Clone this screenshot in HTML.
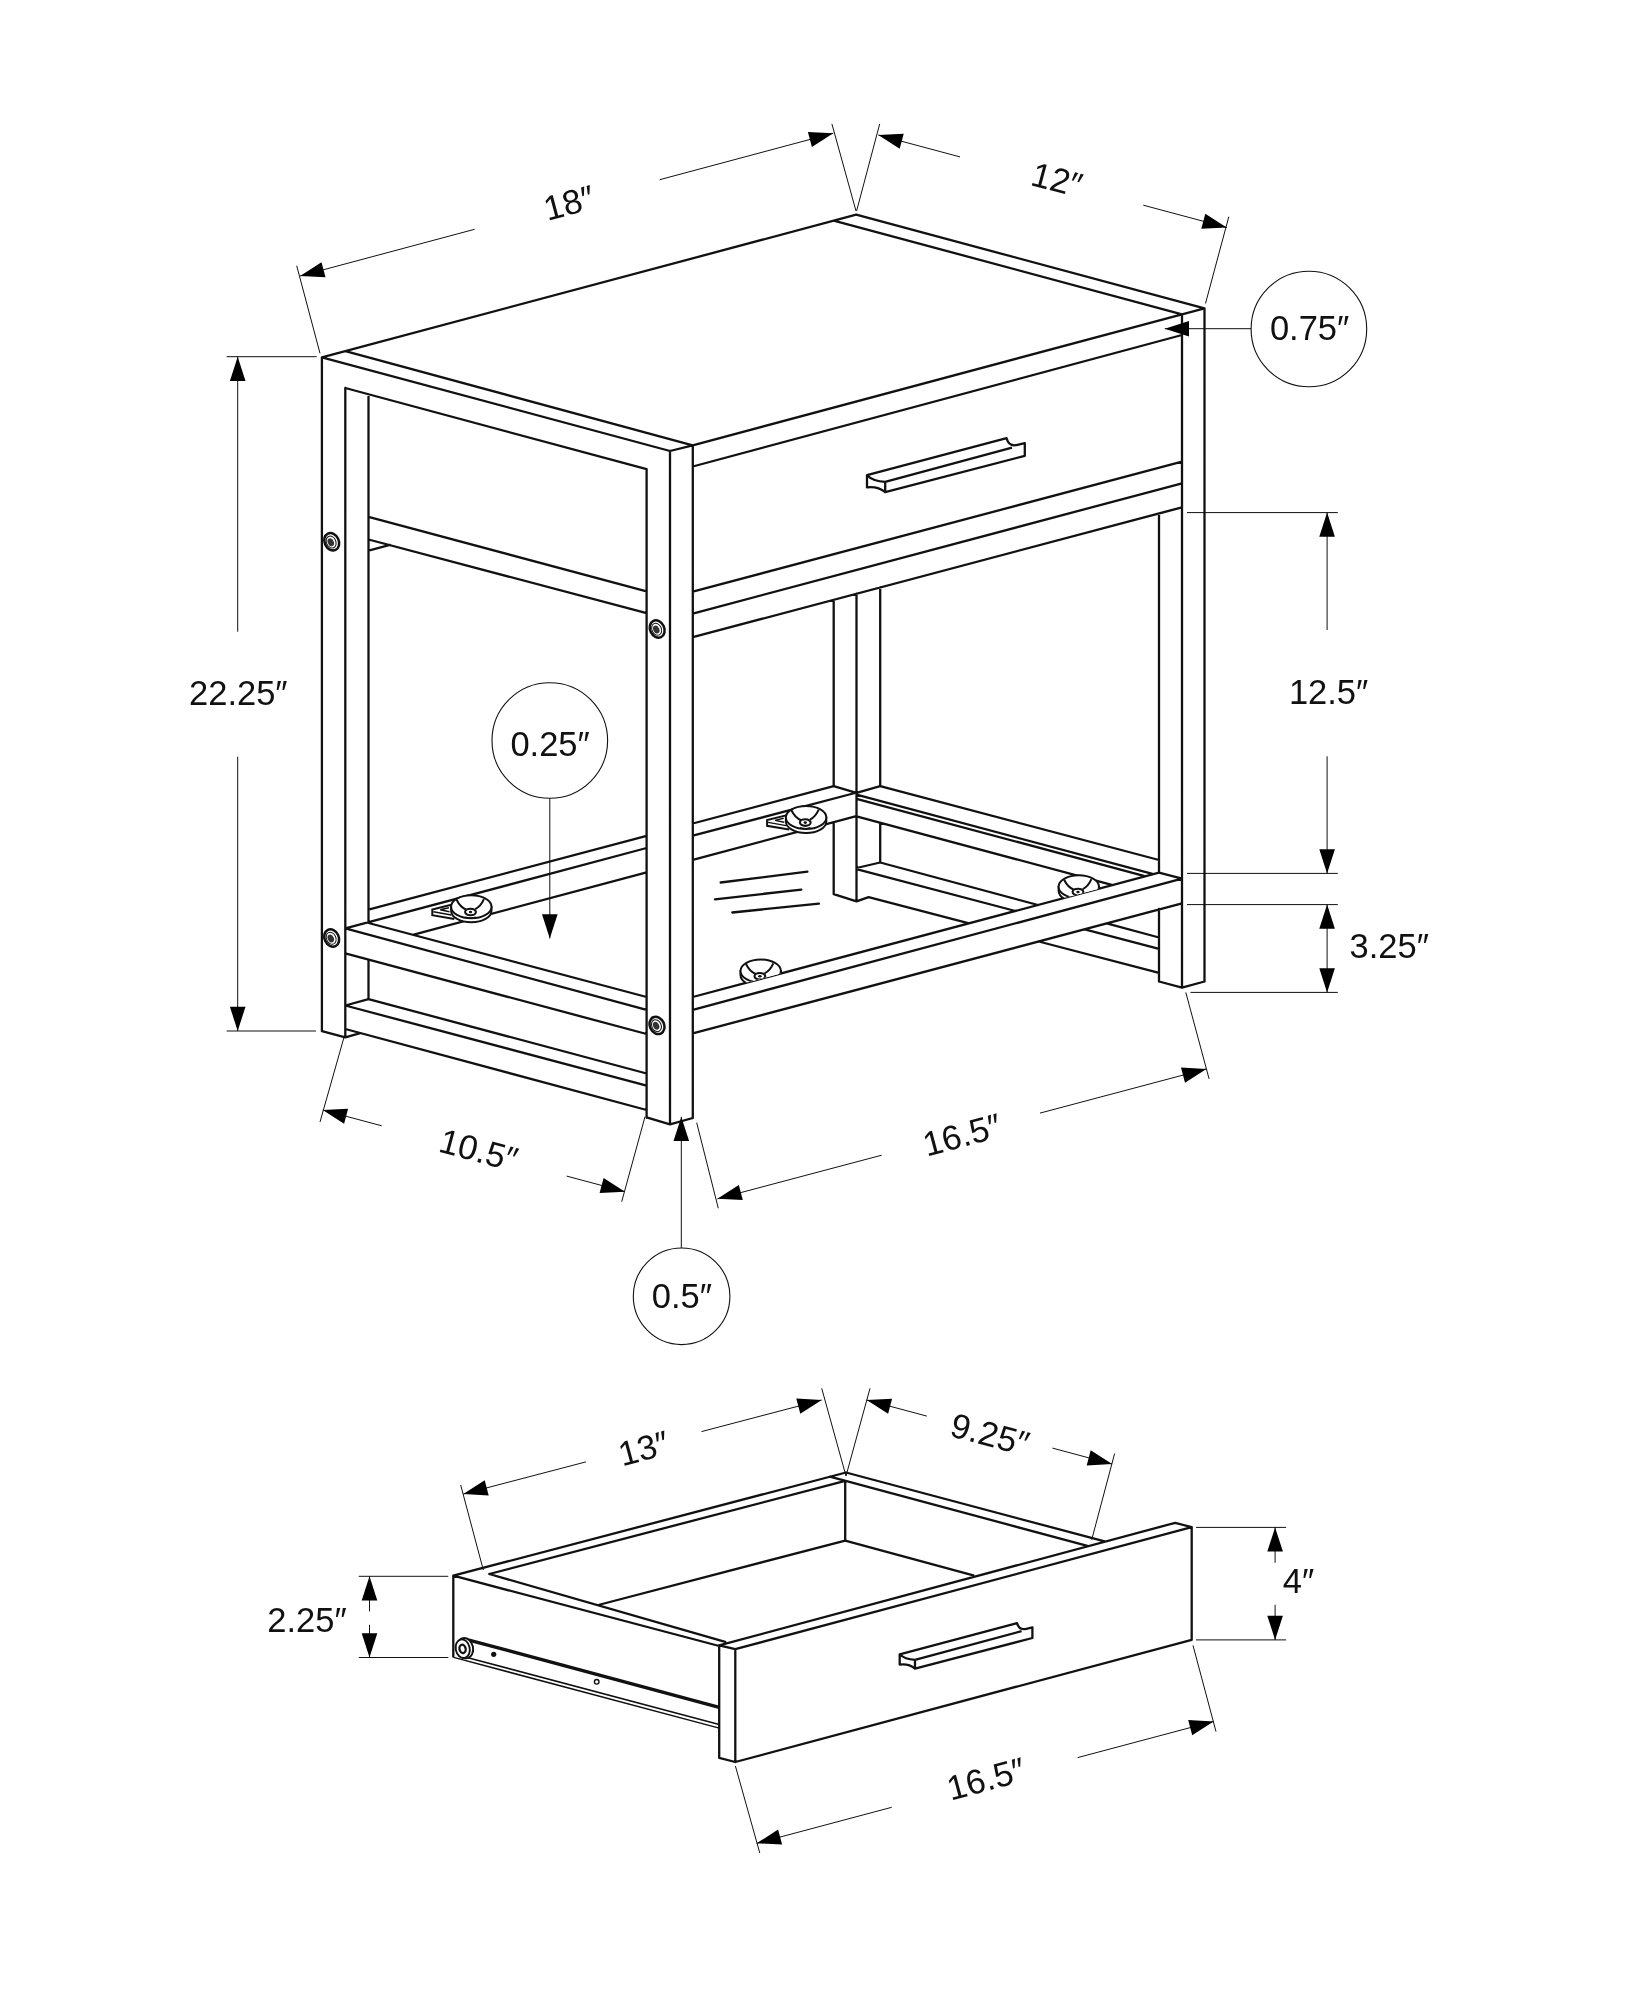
<!DOCTYPE html>
<html lang="en"><head><meta charset="utf-8"><title>Side table dimensions</title>
<style>html,body{margin:0;padding:0;background:#fff}svg{display:block}text{font-family:"Liberation Sans",sans-serif;fill:#111}</style></head><body>
<svg style="will-change:transform" width="1648" height="2000" viewBox="0 0 1648 2000">
<rect width="1648" height="2000" fill="#fff"/>
<defs><clipPath id="cf" clipPathUnits="userSpaceOnUse"><path d="M692.8 997L1159 872.7L1159 700L692.8 700Z"/></clipPath></defs>
<g fill="none" stroke="#111" stroke-width="2.3" stroke-linecap="round">
<path d="M321.9 357.3L856.2 214.7M856.2 214.7L1204.5 308.3M321.9 357.3L670 451M345.4 351.1L692.7 445.3M692.7 445.3L1182 314.3M834.6 220.8L1182 314.3M670 451L692.7 445.3M1182 314.3L1204.5 308.3M321.9 357.3L321.9 1031.2M345.3 388L345.3 1037.4M321.9 1031.2L345.3 1037.4M345.3 1037.4L360.3 1033.2M345.3 388L646.6 469.2M646.6 469.2L646.6 1117.8M670 451L670 1124.3M692.8 445.3L692.8 1118M646.6 1117.4L670 1124.3M670 1124.3L692.8 1118M368.5 394.6L368.5 922.6M368.5 960L368.5 999.1M368.5 516.9L646.6 591.3M368.5 539.5L646.6 613.1M368.5 550.7L390 544.9M345.3 928.4L646.6 1009.8M368.5 923L646.6 997M345.3 953.4L646.6 1034M368.5 999.1L646.6 1073.5M345.3 1005.5L646.6 1085.6M345.3 1005.5L368.5 999.1M345.3 1029L646.6 1110M692.8 466.5L1182 335M692.8 591.6L1182 461.7M692.8 613.6L1182 483.3M692.8 637.2L1182 507.3M833.7 599.8L833.7 786.1M833.7 823.1L833.7 894.1M856.5 593.7L856.5 901.4M880.2 587.4L880.2 786.1M880.2 823.1L880.2 862.5M833.7 894.1L856.5 901.4M856.5 901.4L868.6 897.1M1159 513.4L1159 872.7M1159 908.8L1159 981.5M1182 314.3L1182 987.6M1204.5 308.3L1204.5 981.5M1159 981.5L1182 987.6M1182 987.6L1204.5 981.5M368.5 909.7L646.6 835.8M692.8 823.5L833.7 786.1M345.3 928.4L646.6 848M692.8 835.7L855 793M413.8 934.6L646.6 872.3M692.8 859.9L855.3 816.4M833.7 786.1L856.5 792.8M856.5 792.8L880.2 786.1M692.8 997L1159 872.7M692.8 1009.8L1182 878.7M692.8 1033.4L1182 903.4M1159 872.7L1182 878.7M880.2 786.1L1159 860M856.5 794.6L1153.4 874.2M856.5 798.8L1145.6 876.3M856.5 816.4L1112.7 885.1M856.5 868L880.2 862.5M880.2 862.5L1038 905M1106.7 923.4L1159 937.5M856.5 869.2L1015.4 911M1084.7 929.3L1159 948.8M868.6 897.1L969.1 923.3M1038.7 941.5L1159 972.9M720.7 882.5L807.4 871.7M715 899.3L801.3 889.6M732.3 912.5L818.9 903.6M453.3 1575.7L846 1472.5M453.3 1575.7L719.2 1646M453.3 1575.7L453.3 1656.7M489.3 1574L845.2 1480.8M489.3 1574L725.2 1641.9M846 1472.5L1105.6 1541.7M829.8 1476.6L1087.4 1545.9M845.2 1480.8L845.2 1540.6M598.3 1605L845.2 1540.6M845.2 1540.6L973.3 1575.4M719.2 1645.4L735.3 1649.2M735.3 1649.2L1191.7 1527.2M1191.7 1527.2L1175.2 1522.8M1175.2 1522.8L719.2 1645.4M719.2 1645.4L719.2 1757.8M735.3 1649.2L735.3 1762M719.2 1757.8L735.3 1762M735.3 1762L1191.7 1639.8M1191.7 1527.2L1191.7 1639.8"/>
</g>
<path d="M867 475.2L1006.6 438.2Q1008.8 447 1017.5 444.9L1024.8 443.1L1024.8 455.8L885.2 492.2L885.2 481.9Q873.1 481.3 867 475.2ZM885.2 481.9L1012 447.6M867 475.2L867 487.4Q877.9 486.1 885.2 492.2" fill="#fff" stroke="#111" stroke-width="2.3" stroke-linejoin="round"/>
<path d="M899.7 1654.3L1017.1 1623.2Q1019 1630.6 1026.3 1628.8L1032.4 1627.3L1032.4 1638L915 1668.6L915 1659.9Q904.8 1659.4 899.7 1654.3ZM915 1659.9L1021.6 1631.1M899.7 1654.3L899.7 1664.6Q908.9 1663.5 915 1668.6" fill="#fff" stroke="#111" stroke-width="2.3" stroke-linejoin="round"/>
<g transform="translate(331.7 541.8) rotate(-25)"><ellipse rx="7.1" ry="9.0" fill="#fff" stroke="#111" stroke-width="2.5"/><ellipse cx="-0.6" rx="4.7" ry="6.2" fill="none" stroke="#111" stroke-width="1"/><ellipse cx="-1" rx="3.0" ry="4.1" fill="#333"/></g>
<g transform="translate(657.2 629) rotate(-25)"><ellipse rx="7.1" ry="9.0" fill="#fff" stroke="#111" stroke-width="2.5"/><ellipse cx="-0.6" rx="4.7" ry="6.2" fill="none" stroke="#111" stroke-width="1"/><ellipse cx="-1" rx="3.0" ry="4.1" fill="#333"/></g>
<g transform="translate(331.7 938) rotate(-25)"><ellipse rx="7.1" ry="9.0" fill="#fff" stroke="#111" stroke-width="2.5"/><ellipse cx="-0.6" rx="4.7" ry="6.2" fill="none" stroke="#111" stroke-width="1"/><ellipse cx="-1" rx="3.0" ry="4.1" fill="#333"/></g>
<g transform="translate(657 1025.4) rotate(-25)"><ellipse rx="7.1" ry="9.0" fill="#fff" stroke="#111" stroke-width="2.5"/><ellipse cx="-0.6" rx="4.7" ry="6.2" fill="none" stroke="#111" stroke-width="1"/><ellipse cx="-1" rx="3.0" ry="4.1" fill="#333"/></g>
<g><g transform="translate(471.3 906.8)" fill="#fff" stroke="#111" stroke-width="2"><path d="M-19 -2.3L-39 2.7L-39 8.4L-17 12.2" stroke-linejoin="miter"/><path d="M-38 5L-20 8.2M-31.1 3L-22.4 0.9M-31.1 3L-21.8 4.9" fill="none" stroke-width="1.4"/><path d="M-20.2 0L-20.2 4A20.2 11.5 0 0 0 20.2 4L20.2 0Z"/><ellipse rx="20.2" ry="11.5"/><path d="M-14.7 -7.1Q-11 0.5 -4.9 2.9M12.6 -7.7Q9.5 -0.5 3.9 2.3" fill="none"/><ellipse cx="-0.8" cy="5.2" rx="5.4" ry="3.3" stroke-width="2.1"/><ellipse cx="-0.8" cy="5.2" rx="1.7" ry="1.3" fill="#111" stroke="none"/><path d="M-6 10.2Q-1 12.3 4.4 10.2" fill="none" stroke-width="1.2"/></g></g>
<g><g transform="translate(806.1 817.4)" fill="#fff" stroke="#111" stroke-width="2"><path d="M-19 -2.3L-39 2.7L-39 8.4L-17 12.2" stroke-linejoin="miter"/><path d="M-38 5L-20 8.2M-31.1 3L-22.4 0.9M-31.1 3L-21.8 4.9" fill="none" stroke-width="1.4"/><path d="M-20.2 0L-20.2 4A20.2 11.5 0 0 0 20.2 4L20.2 0Z"/><ellipse rx="20.2" ry="11.5"/><path d="M-14.7 -7.1Q-11 0.5 -4.9 2.9M12.6 -7.7Q9.5 -0.5 3.9 2.3" fill="none"/><ellipse cx="-0.8" cy="5.2" rx="5.4" ry="3.3" stroke-width="2.1"/><ellipse cx="-0.8" cy="5.2" rx="1.7" ry="1.3" fill="#111" stroke="none"/><path d="M-6 10.2Q-1 12.3 4.4 10.2" fill="none" stroke-width="1.2"/></g></g>
<g clip-path="url(#cf)"><g transform="translate(1078.8 886.8)" fill="#fff" stroke="#111" stroke-width="2"><path d="M-20.2 0L-20.2 4A20.2 11.5 0 0 0 20.2 4L20.2 0Z"/><ellipse rx="20.2" ry="11.5"/><path d="M-14.7 -7.1Q-11 0.5 -4.9 2.9M12.6 -7.7Q9.5 -0.5 3.9 2.3" fill="none"/><ellipse cx="-0.8" cy="5.2" rx="5.4" ry="3.3" stroke-width="2.1"/><ellipse cx="-0.8" cy="5.2" rx="1.7" ry="1.3" fill="#111" stroke="none"/><path d="M-6 10.2Q-1 12.3 4.4 10.2" fill="none" stroke-width="1.2"/></g></g>
<g clip-path="url(#cf)"><g transform="translate(760.7 971.1)" fill="#fff" stroke="#111" stroke-width="2"><path d="M-20.2 0L-20.2 4A20.2 11.5 0 0 0 20.2 4L20.2 0Z"/><ellipse rx="20.2" ry="11.5"/><path d="M-14.7 -7.1Q-11 0.5 -4.9 2.9M12.6 -7.7Q9.5 -0.5 3.9 2.3" fill="none"/><ellipse cx="-0.8" cy="5.2" rx="5.4" ry="3.3" stroke-width="2.1"/><ellipse cx="-0.8" cy="5.2" rx="1.7" ry="1.3" fill="#111" stroke="none"/><path d="M-6 10.2Q-1 12.3 4.4 10.2" fill="none" stroke-width="1.2"/></g></g>
<path d="M468 1639.8L719.2 1707.4" stroke="#111" stroke-width="3.4" fill="none"/>
<path d="M453.7 1657.4L719.2 1728.1M466 1657.2L719.2 1724.5" stroke="#111" stroke-width="1.5" fill="none"/>
<g transform="translate(463.5 1648.5) rotate(-12)"><ellipse cx="1.6" rx="8" ry="10.2" fill="#fff" stroke="#111" stroke-width="1.9"/><ellipse cx="-0.8" rx="7" ry="9.4" fill="#fff" stroke="#111" stroke-width="1.9"/><ellipse cx="-1" cy="0.2" rx="3.1" ry="4.2" fill="#fff" stroke="#111" stroke-width="2.3"/></g>
<circle cx="493.7" cy="1654.3" r="2.6" fill="#111"/>
<circle cx="596.7" cy="1681.8" r="2.3" fill="#fff" stroke="#111" stroke-width="1.4"/>
<circle cx="549.8" cy="740.5" r="57.8" fill="none" stroke="#111" stroke-width="1.1"/>
<circle cx="1308.9" cy="329" r="57.8" fill="none" stroke="#111" stroke-width="1.1"/>
<circle cx="681.6" cy="1296.3" r="48.3" fill="none" stroke="#111" stroke-width="1.1"/>
<g fill="none" stroke="#111" stroke-width="1">
<path d="M296.7 265.7L320 353.3M831.9 123.9L856 211M300.1 276L474.6 229.3M659.7 179.7L833.3 133.2M879.7 123.9L856.6 211M1228.8 216.7L1205.5 303.5M878.3 135L960 156.9M1143.3 205.2L1226.7 227.5M226.7 356.7L316.7 356.7M226.7 1031L316 1031M237.7 356.7L237.7 631.7M237.7 756.7L237.7 1031M1187 512.6L1337.8 512.6M1187 873.4L1337.8 873.4M1327.1 512.6L1327.1 630M1327.1 756.3L1327.1 873.4M1187 904.6L1337.8 904.6M1190.5 992.4L1337.8 992.4M1327.1 904.6L1327.1 992.4M344 1037.3L320 1122M645 1116.7L621.7 1201.7M322.7 1110L381.7 1125.8M566.7 1176.1L625 1191.7M696.7 1122.7L718.3 1208.3M1185.8 992.4L1209.1 1078.9M717.4 1198.8L881.7 1155.2M1040 1113.1L1206.4 1068.9M549.8 798.3L549.8 938.4M1251.1 328.7L1164.8 328.7M681.3 1248L681.3 1116.9M460.7 1485L483.3 1570M821.7 1388.3L846 1476M463.3 1494L585.9 1461.9M701.5 1431.6L821.7 1400M870 1388.3L846 1476M1114.6 1453.6L1091.7 1539.8M866.7 1400L926.8 1416.1M1052.5 1448.1L1112.1 1464.1M1196 1527.4L1286.1 1527.4M1196 1639.9L1286.1 1639.9M1275.1 1527.4L1275.1 1562.8M1275.1 1604.8L1275.1 1639.9M358.8 1576.3L448.3 1576.3M358.8 1657.5L448.3 1657.5M369.5 1576.3L369.5 1611.4M369.5 1624.8L369.5 1657.5M735.4 1766L759.8 1853M1193 1645.4L1216 1731.6M756.7 1843.3L891.7 1807.3M1077.7 1757.6L1213.6 1721.4"/>
</g>
<g fill="#000">
<polygon points="300.1,276 321.5,262.2 325.5,277.3"/>
<polygon points="833.3,133.2 811.9,147 807.9,131.9"/>
<polygon points="878.3,135 903.7,133.7 899.7,148.8"/>
<polygon points="1226.7,227.5 1201.3,228.8 1205.3,213.7"/>
<polygon points="237.7,356.7 245.5,380.9 229.9,380.9"/>
<polygon points="237.7,1031 229.9,1006.8 245.5,1006.8"/>
<polygon points="1327.1,512.6 1334.9,536.8 1319.3,536.8"/>
<polygon points="1327.1,873.4 1319.3,849.2 1334.9,849.2"/>
<polygon points="1327.1,904.6 1334.9,928.8 1319.3,928.8"/>
<polygon points="1327.1,992.4 1319.3,968.2 1334.9,968.2"/>
<polygon points="322.7,1110 348.1,1108.7 344.1,1123.8"/>
<polygon points="625,1191.7 599.6,1193 603.6,1177.9"/>
<polygon points="717.4,1198.8 738.8,1185 742.8,1200.1"/>
<polygon points="1206.4,1068.9 1185,1082.7 1181,1067.6"/>
<polygon points="549.8,938.4 542,914.2 557.6,914.2"/>
<polygon points="1164.8,328.7 1189,320.9 1189,336.5"/>
<polygon points="681.3,1116.9 689.1,1141.1 673.5,1141.1"/>
<polygon points="463.3,1494 484.7,1480.3 488.7,1495.4"/>
<polygon points="821.7,1400 800.3,1413.7 796.3,1398.6"/>
<polygon points="866.7,1400 892.1,1398.7 888.1,1413.8"/>
<polygon points="1112.1,1464.1 1086.7,1465.4 1090.7,1450.3"/>
<polygon points="1275.1,1527.4 1282.9,1551.6 1267.3,1551.6"/>
<polygon points="1275.1,1639.9 1267.3,1615.7 1282.9,1615.7"/>
<polygon points="369.5,1576.3 377.3,1600.5 361.7,1600.5"/>
<polygon points="369.5,1657.5 361.7,1633.3 377.3,1633.3"/>
<polygon points="756.7,1843.3 778.1,1829.5 782.1,1844.6"/>
<polygon points="1213.6,1721.4 1192.2,1735.2 1188.2,1720.1"/>
</g>
<text font-size="34.5" text-anchor="middle" transform="translate(572 214.5) rotate(-15)">18″</text>
<text font-size="34.5" text-anchor="middle" transform="translate(1053.8 191.2) rotate(15)">12″</text>
<text font-size="34.5" text-anchor="middle" x="238.3" y="705.3">22.25″</text>
<text font-size="34.5" text-anchor="middle" x="1328.6" y="704.2">12.5″</text>
<text font-size="34.5" text-anchor="middle" x="1389.2" y="957.5">3.25″</text>
<text font-size="34.5" text-anchor="middle" x="1309.6" y="340.2">0.75″</text>
<text font-size="34.5" text-anchor="middle" x="550.1" y="755.5">0.25″</text>
<text font-size="34.5" text-anchor="middle" x="681.9" y="1308">0.5″</text>
<text font-size="34.5" text-anchor="middle" transform="translate(475.6 1161.6) rotate(15)">10.5″</text>
<text font-size="34.5" text-anchor="middle" transform="translate(965 1146.4) rotate(-15)">16.5″</text>
<text font-size="34.5" text-anchor="middle" transform="translate(646.7 1460) rotate(-15)">13″</text>
<text font-size="34.5" text-anchor="middle" transform="translate(986.9 1445.9) rotate(15)">9.25″</text>
<text font-size="34.5" text-anchor="middle" x="307" y="1631.9">2.25″</text>
<text font-size="34.5" text-anchor="middle" x="1298.5" y="1593.4">4″</text>
<text font-size="34.5" text-anchor="middle" transform="translate(989 1790.4) rotate(-15)">16.5″</text>
</svg></body></html>
